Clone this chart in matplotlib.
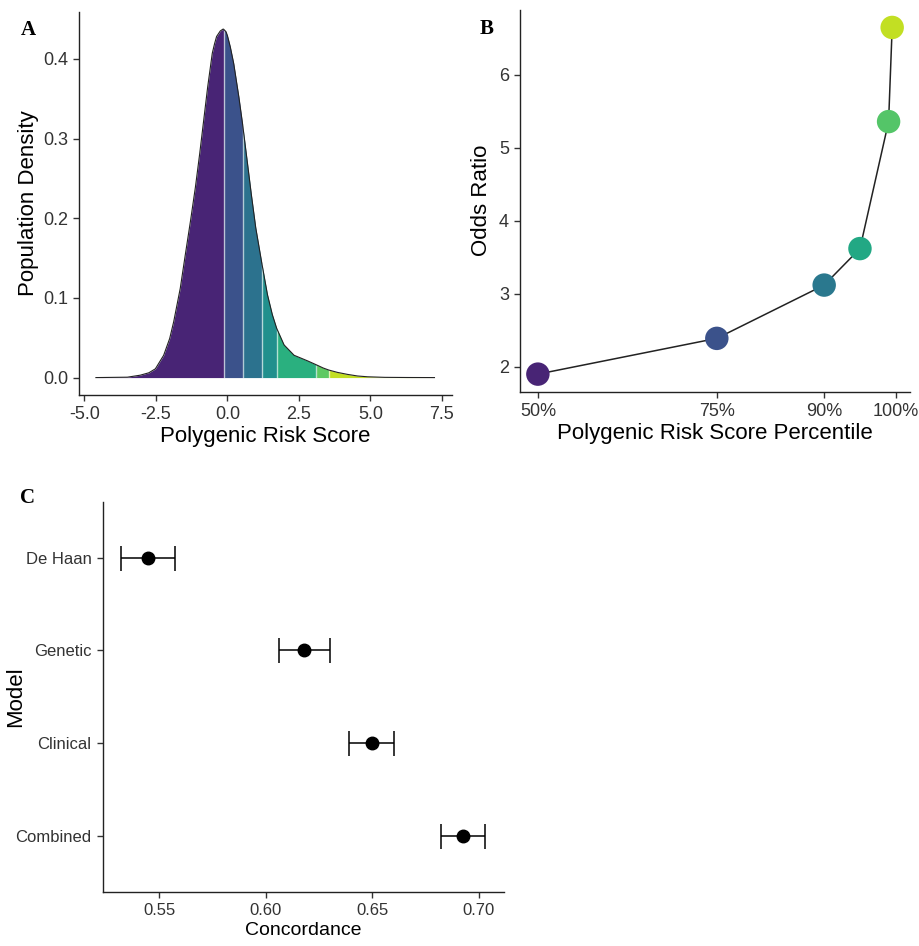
import matplotlib.pyplot as plt
import numpy as np

plt.rcParams['font.family'] = ['Liberation Sans', 'DejaVu Sans']
plt.rcParams['axes.unicode_minus'] = False

# panel A: population density of the polygenic risk score
prs_x = [-4.6, -3.5, -3.05, -2.75, -2.52, -2.23, -2.02, -1.88, -1.65, -1.47,
         -1.29, -1.12, -0.97, -0.83, -0.69, -0.53, -0.45, -0.38, -0.25, -0.15,
         -0.13, -0.05, 0.0, 0.1, 0.22, 0.40, 0.53, 0.69, 0.835, 0.99,
         1.20, 1.40, 1.57, 1.72, 1.98, 2.33, 2.80, 3.11, 3.35, 3.54,
         3.85, 4.20, 4.55, 4.9, 5.5, 6.3, 7.24]
prs_density = [0.0, 0.0005, 0.003, 0.006, 0.011, 0.028, 0.049, 0.070, 0.112, 0.155,
               0.197, 0.239, 0.281, 0.323, 0.365, 0.407, 0.419, 0.428, 0.435, 0.4374,
               0.437, 0.434, 0.429, 0.415, 0.394, 0.352, 0.318, 0.272, 0.230, 0.188,
               0.144, 0.104, 0.079, 0.062, 0.041, 0.028, 0.021, 0.016, 0.012, 0.0095,
               0.0065, 0.004, 0.002, 0.001, 0.0003, 0.0001, 0.0]
band_edges = [-0.13, 0.53, 1.20, 1.72, 3.11, 3.54]
band_colors = ['#482475', '#3b528b', '#2c728e', '#21908d', '#2ab07f', '#5ec962', '#c2df23']

# panel B: odds ratio by percentile
pct = [50, 75, 90, 95, 99, 99.5]
odds_ratio = [1.90, 2.39, 3.12, 3.62, 5.36, 6.65]
pct_colors = ['#482475', '#3b528b', '#2a788e', '#22a884', '#54c568', '#c2df23']
pct_ticks = [50, 75, 90, 100]

# panel C: concordance per model
models = ['De Haan', 'Genetic', 'Clinical', 'Combined']
conc = [0.5448, 0.6179, 0.6498, 0.6925]
conc_lo = [0.5319, 0.6060, 0.6390, 0.6820]
conc_hi = [0.5574, 0.6300, 0.6603, 0.7031]

tick_col = '#333333'


def style(ax, fs=13):
    for s in ['top', 'right']:
        ax.spines[s].set_visible(False)
    for s in ['left', 'bottom']:
        ax.spines[s].set_linewidth(1.0)
        ax.spines[s].set_color('#222222')
    ax.tick_params(length=4, width=1.0, color='#333333', labelsize=fs,
                   labelcolor=tick_col, pad=4)


fig = plt.figure(figsize=(9.2, 9.46), dpi=100)

# ---- A
axA = fig.add_axes([0.0859, 0.5825, 0.405, 0.405])
x = np.array(prs_x)
y = np.array(prs_density)
edges = [x[0]] + band_edges + [x[-1]]
for i in range(len(edges) - 1):
    m = (x >= edges[i]) & (x <= edges[i + 1])
    axA.fill_between(x[m], 0, y[m], color=band_colors[i], lw=0)
heights = [y[x == b][0] for b in band_edges]
axA.vlines(band_edges, 0, heights, color='white', alpha=0.6, lw=1.0)
axA.plot(x, y, color='#222222', lw=0.8)
axA.set_xlim(-5.19, 7.84)
axA.set_ylim(-0.0218, 0.459)
axA.set_xticks([-5, -2.5, 0, 2.5, 5, 7.5])
axA.set_xticklabels(['-5.0', '-2.5', '0.0', '2.5', '5.0', '7.5'])
axA.set_yticks([0, 0.1, 0.2, 0.3, 0.4])
axA.set_yticklabels(['0.0', '0.1', '0.2', '0.3', '0.4'])
style(axA)
axA.set_xlabel('Polygenic Risk Score', fontsize=16, labelpad=2)
axA.set_ylabel('Population Density', fontsize=16, labelpad=3)

# ---- B
axB = fig.add_axes([0.5652, 0.586, 0.424, 0.4035])
axB.plot(pct, odds_ratio, color='#222222', lw=1.1, zorder=1)
axB.scatter(pct, odds_ratio, s=285, c=pct_colors, zorder=2, lw=0)
axB.set_xlim(47.5, 102)
axB.set_ylim(1.66, 6.89)
axB.set_xticks(pct_ticks)
axB.set_xticklabels([f'{t}%' for t in pct_ticks])
axB.set_yticks([2, 3, 4, 5, 6])
style(axB)
axB.set_xlabel('Polygenic Risk Score Percentile', fontsize=16, labelpad=2)
axB.set_ylabel('Odds Ratio', fontsize=16, labelpad=5)

# ---- C
axC = fig.add_axes([0.1116, 0.0574, 0.436, 0.412])
ypos = np.arange(len(models))[::-1] + 1
c = np.array(conc)
err = [c - np.array(conc_lo), np.array(conc_hi) - c]
axC.errorbar(c, ypos, xerr=err, fmt='o', color='black', ms=9, capsize=9,
             elinewidth=1.1, capthick=1.1)
axC.set_xlim(0.5234, 0.7117)
axC.set_ylim(0.4, 4.6)
axC.set_xticks([0.55, 0.60, 0.65, 0.70])
axC.set_xticklabels(['0.55', '0.60', '0.65', '0.70'])
axC.set_yticks(ypos)
axC.set_yticklabels(models)
style(axC, fs=12)
axC.set_xlabel('Concordance', fontsize=14, labelpad=3)
axC.set_ylabel('Model', fontsize=16)
axC.yaxis.set_label_coords(-0.19, 0.5)

# panel letters
for lab, px, py in [('A', 28, 30), ('B', 487, 29), ('C', 28, 498)]:
    fig.text(px / 920, 1 - py / 946, lab, fontsize=15, fontweight='bold',
             family='Liberation Serif', ha='center', va='center')

fig.savefig('out.png', dpi=100)
